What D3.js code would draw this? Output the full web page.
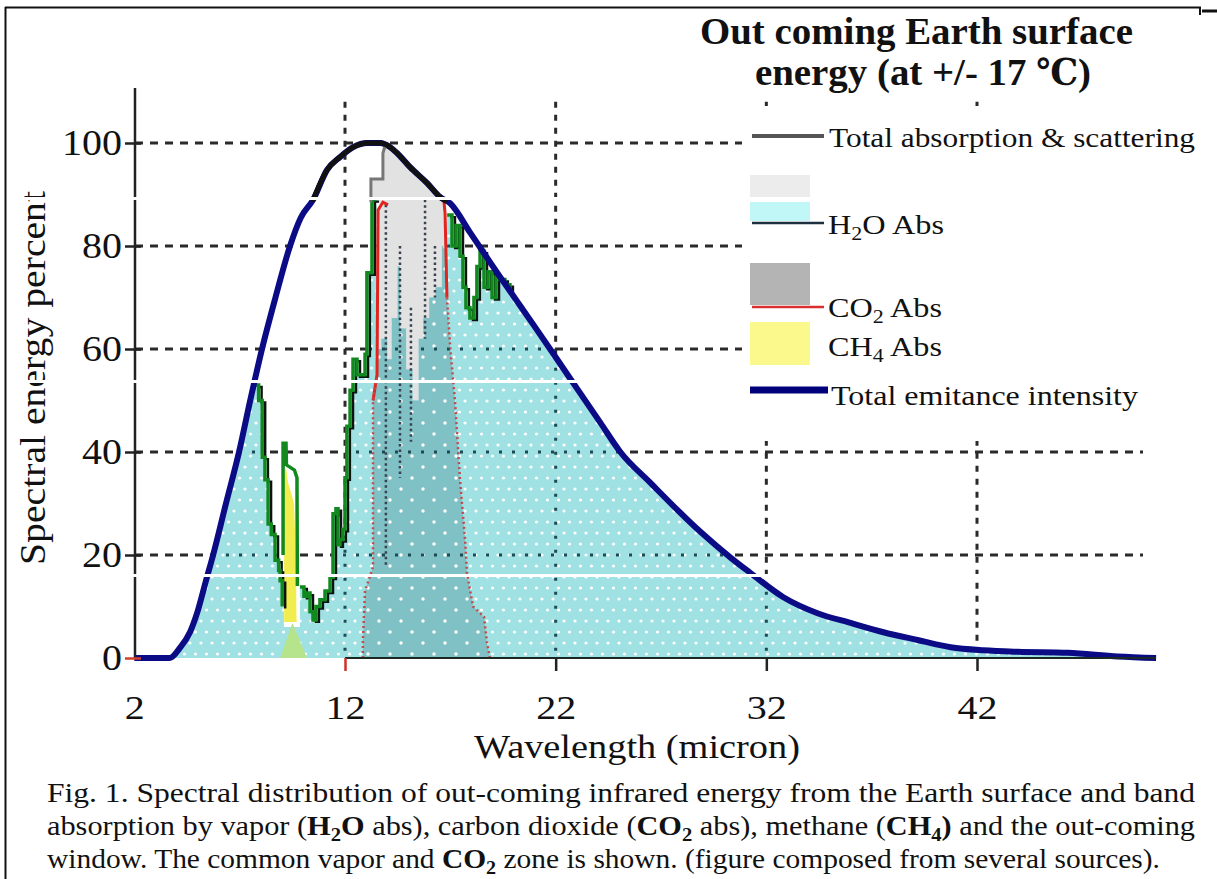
<!DOCTYPE html>
<html><head><meta charset="utf-8">
<script src="https://cdn.jsdelivr.net/npm/d3@7/dist/d3.min.js"></script>
<style>
html,body{margin:0;padding:0;background:#fff;}
svg{display:block;}
text{font-family:"Liberation Serif","Tinos","Times New Roman","Nimbus Roman","DejaVu Serif Condensed","DejaVu Serif",serif;fill:#111;}
</style></head><body>
<svg id="chart" width="1217" height="879"></svg>
<script>
// ---------------- data ----------------
const xTicks = [2, 12, 22, 32, 42];
const yTicks = [0, 20, 40, 60, 80, 100];
const gridX = [12, 22, 32, 42];
const gridY = [20, 40, 60, 80, 100];

// total emitance intensity (navy envelope) [micron, percent]
const emittance = [[2.0,0],[3.69,0],[4.17,2],[4.64,5],[5.0,9],[5.4,15],[5.74,20],[6.35,30],[6.97,40],[7.5,50],
  [8.06,60],[8.7,70],[9.39,80],[9.9,85.5],[10.49,89],[11.15,94.8],[11.77,97.3],[12.39,99.2],[13.05,100],
  [13.67,100],[14.14,99.2],[14.48,98],[15.09,95.3],[15.9,92.2],[16.52,89.5],[16.99,88.3],[17.94,82.6],
  [19.36,74],[20.18,69.2],[21.03,64.2],[22.55,55.1],[24.12,45.7],[25.07,40],[26.5,34],[28.87,24.5],
  [30.3,19.5],[31.25,16.5],[32.81,11.8],[34.43,8.7],[36.0,6.8],[37.56,5],[39.18,3.5],[40.75,2.1],
  [42.31,1.5],[43.93,1.2],[46.31,1],[48.68,0.3],[50.5,0]];

// total absorption & scattering (black top) and its grey step
const totalAbs = [[10.49,89],[11.15,94.8],[11.77,97.3],[12.39,99.2],[13.05,100],[13.67,100],[14.14,99.2],
  [14.48,98],[15.09,95.3],[15.9,92.2],[16.52,89.5],[16.75,88.8]];
const absStep = [[13.23,88.5],[13.23,93],[13.8,93],[13.8,98],[13.94,100]];

// upper limit of the transmitted (H2O window) area
const h2oWindow = [[7.73,53],[7.9,50],[8.07,39],[8.2,34.6],[8.35,26],[8.5,24],[8.68,19],[8.85,17],[8.92,15],
  [9.02,10],[9.1,6],[9.8,6],[9.86,13.8],[10.05,12],[10.2,12.6],[10.34,9],[10.48,7.4],[10.62,10],[10.81,11.3],
  [11.05,13],[11.29,15.7],[11.43,28],[11.57,29],[11.67,22],[11.76,23],[11.9,25],[12.0,35],[12.09,45],
  [12.24,52],[12.38,58],[12.57,55],[12.81,55],[12.95,59],[13.04,74.8],[13.28,89],[13.47,89],
  [13.5,60],[13.73,62],[14.0,58],[14.22,66],[14.5,76],[14.62,64],[14.9,56],[15.2,50],[15.5,62],[15.72,66],
  [16.0,70],[16.3,72],[16.6,80],[16.85,86],
  [16.89,86],[17.08,80],[17.27,84],[17.46,78],[17.6,72],[17.74,68],[17.93,66],[18.12,70],[18.26,76],
  [18.41,79],[18.6,72],[18.79,75],[18.98,70],[19.17,74],[19.36,73.5],[19.59,72.5],[19.83,71.5]];

// CH4 band
const ch4Band = [[9.11,7],[9.11,36],[9.2,37],[9.3,34],[9.45,32],[9.58,30],[9.65,22],[9.68,14],[9.7,7]];
const ch4Overlap = [[8.92,0],[9.5,6.8],[10.2,0]];
const ch4Outline = [[9.06,20],[9.06,41.7],[9.2,41.7],[9.22,37.5],[9.6,36.5],[9.72,35],[9.74,14]];

// CO2 band edges (red)
const co2Left = [[12.85,0],[12.85,3.5],[12.95,13],[13.33,17.7],[13.33,50],[13.52,55],[13.57,87],[13.8,88.5],[14.04,88]];
const co2Right = [[16.7,88.5],[16.75,86.4],[16.84,70],[17.0,60],[17.22,50],[17.46,34.6],[17.7,23],[17.79,16.5],
  [18.08,10],[18.6,8],[18.74,3],[18.88,0]];
// dotted H2O lines inside the CO2 zone [micron, top, bottom]
const co2ZoneLines = [[13.94,88,18],[14.61,80,35],[15.13,68,42],[15.8,89,62],[16.27,80,70]];

// ---------------- drawing ----------------
const svg = d3.select('#chart');
const x = d3.scaleLinear().domain([12, 42]).range([345, 977]);
const y = d3.scaleLinear().domain([0, 100]).range([658, 143]);
const defs = svg.append('defs');

function pattern(id, bg, w, h, dots, r) {
  const p = defs.append('pattern').attr('id', id).attr('patternUnits', 'userSpaceOnUse')
    .attr('width', w).attr('height', h);
  p.append('rect').attr('width', w).attr('height', h).attr('fill', bg);
  dots.forEach(d => p.append('circle').attr('cx', d[0]).attr('cy', d[1]).attr('r', r).attr('fill', '#fff'));
}
pattern('pCyan', '#a0e1e4', 11, 22, [[3, 5], [8.5, 16]], 1.6);
pattern('pTeal', '#80c1c5', 22, 22, [[5, 5], [16, 16]], 1.7);
pattern('pGray', '#e2e2e2', 8, 8, [], 0);

const lineGen = d3.line().x(d => x(d[0])).y(d => y(d[1]));
const smoothGen = d3.line().x(d => x(d[0])).y(d => y(d[1])).curve(d3.curveMonotoneX);
const stepGen = d3.line().x(d => x(d[0])).y(d => y(d[1])).curve(d3.curveStepAfter);
const areaEnv = d3.area().x(d => x(d[0])).y0(y(0)).y1(d => y(d[1])).curve(d3.curveMonotoneX);

// clip paths
const yMax = 112, yMin = -3, xMin = 2, xMax = 50.5;
const h2oPts = [[xMin, yMax], [h2oWindow[0][0], yMax], ...h2oWindow,
  [h2oWindow[h2oWindow.length - 1][0], yMax], [xMax, yMax], [xMax, yMin], [xMin, yMin]];
defs.append('clipPath').attr('id', 'h2oClip').append('path').attr('d', stepGen(h2oPts) + 'Z');
const bandPts = [...co2Left, ...absStep, [absStep[absStep.length - 1][0], yMax], [co2Right[0][0], yMax], ...co2Right];
defs.append('clipPath').attr('id', 'bandClip').append('path').attr('d', lineGen(bandPts) + 'Z');
defs.append('clipPath').attr('id', 'envClip').append('path').attr('d', areaEnv(emittance));

// frame
svg.append('line').attr('x1', 5.5).attr('x2', 5.5).attr('y1', 7).attr('y2', 879).attr('stroke', '#111').attr('stroke-width', 2);
svg.append('line').attr('x1', 5).attr('x2', 1201).attr('y1', 7.5).attr('y2', 7.5).attr('stroke', '#111').attr('stroke-width', 2);
svg.append('line').attr('x1', 1200).attr('x2', 1200).attr('y1', 7).attr('y2', 15).attr('stroke', '#111').attr('stroke-width', 2);
svg.append('line').attr('x1', 1202).attr('x2', 1217).attr('y1', 11).attr('y2', 11).attr('stroke', '#111').attr('stroke-width', 3);

// dashed grid (under fills)
const gGrid = svg.append('g').attr('stroke', '#2a2a2a').attr('stroke-width', 3).attr('fill', 'none');
gridY.forEach(v => gGrid.append('line').attr('x1', 135).attr('x2', 1143).attr('y1', y(v)).attr('y2', y(v))
  .attr('stroke-dasharray', '8,7'));
gridX.forEach(v => gGrid.append('line').attr('x1', x(v)).attr('x2', x(v)).attr('y1', y(108)).attr('y2', y(0))
  .attr('stroke-dasharray', '6,7'));

// fills
const gFill = svg.append('g');
gFill.append('path').attr('d', areaEnv(emittance)).attr('fill', 'url(#pGray)').attr('clip-path', 'url(#bandClip)');
gFill.append('path').attr('d', areaEnv(emittance)).attr('fill', 'url(#pCyan)').attr('clip-path', 'url(#h2oClip)');
gFill.append('g').attr('clip-path', 'url(#bandClip)').append('path').attr('d', areaEnv(emittance))
  .attr('fill', 'url(#pTeal)').attr('clip-path', 'url(#h2oClip)');

// CH4
gFill.append('path').attr('d', lineGen(ch4Band) + 'Z').attr('fill', '#f1ed4e');
gFill.append('path').attr('d', lineGen(ch4Overlap) + 'Z').attr('fill', '#b6e48c');

// dotted grid showing through the fill
const gDot = svg.append('g').attr('clip-path', 'url(#envClip)').append('g').attr('clip-path', 'url(#h2oClip)')
  .attr('stroke', '#1c4b55').attr('stroke-width', 3).attr('fill', 'none');
gridY.forEach(v => gDot.append('line').attr('x1', 135).attr('x2', 1143).attr('y1', y(v)).attr('y2', y(v))
  .attr('stroke-dasharray', '3,10'));
gridX.forEach(v => gDot.append('line').attr('x1', x(v)).attr('x2', x(v)).attr('y1', y(108)).attr('y2', y(0))
  .attr('stroke-dasharray', '3,11'));

// dotted H2O lines inside the CO2 zone
co2ZoneLines.forEach(d => svg.append('line').attr('x1', x(d[0])).attr('x2', x(d[0]))
  .attr('y1', y(d[1])).attr('y2', y(d[2])).attr('stroke', '#3a4250').attr('stroke-width', 2.5)
  .attr('stroke-dasharray', '2.5,3'));

// H2O absorption lines (green with black shadow)
const h2oDefined = d => (d[0] <= 13.47 || d[0] >= 16.85) && !(d[0] >= 9.1 && d[0] <= 9.8);
const h2oLine = d3.line().x(d => x(d[0])).y(d => y(d[1])).curve(d3.curveStepAfter).defined(h2oDefined);
svg.append('path').attr('d', h2oLine(h2oWindow)).attr('fill', 'none').attr('stroke', '#0c1410')
  .attr('stroke-width', 2.4).attr('transform', 'translate(3,2)');
svg.append('path').attr('d', h2oLine(h2oWindow)).attr('fill', 'none').attr('stroke', '#12891e').attr('stroke-width', 3.5);
svg.append('path').attr('d', lineGen(ch4Outline)).attr('fill', 'none').attr('stroke', '#12891e').attr('stroke-width', 3.5);

// CO2 red edges
const redSolid = '#e0241e';
svg.append('path').attr('d', lineGen(co2Left.filter(d => d[1] >= 50))).attr('fill', 'none').attr('stroke', redSolid).attr('stroke-width', 3);
svg.append('path').attr('d', lineGen(co2Left.filter(d => d[1] <= 55))).attr('fill', 'none').attr('stroke', '#c44a4a')
  .attr('stroke-width', 2.5).attr('stroke-dasharray', '2,3');
svg.append('path').attr('d', lineGen(co2Right.filter(d => d[1] >= 70))).attr('fill', 'none').attr('stroke', redSolid).attr('stroke-width', 3);
svg.append('path').attr('d', lineGen(co2Right.filter(d => d[1] <= 70))).attr('fill', 'none').attr('stroke', '#c44a4a')
  .attr('stroke-width', 2.5).attr('stroke-dasharray', '2,3');

// envelope and total absorption
svg.append('path').attr('d', smoothGen(emittance)).attr('fill', 'none').attr('stroke', '#0b0b86')
  .attr('stroke-width', 6).attr('stroke-linejoin', 'round');
svg.append('path').attr('d', lineGen(absStep)).attr('fill', 'none').attr('stroke', '#777').attr('stroke-width', 3);
svg.append('path').attr('d', smoothGen(totalAbs))
  .attr('fill', 'none').attr('stroke', '#111').attr('stroke-width', 5).attr('stroke-linecap', 'round');

// axes
svg.append('line').attr('x1', 135).attr('x2', 135).attr('y1', 88).attr('y2', 658).attr('stroke', '#222').attr('stroke-width', 2.5);
svg.append('line').attr('x1', x(12)).attr('x2', x(50.5)).attr('y1', 658).attr('y2', 658).attr('stroke', '#1a2a22').attr('stroke-width', 2);
const yAx = svg.append('g').attr('transform', 'translate(135,0)')
  .call(d3.axisLeft(y).tickValues(yTicks).tickSize(10).tickPadding(3).tickFormat(d3.format('d')));
yAx.select('.domain').remove();
yAx.attr('font-family', null).attr('font-size', null);
yAx.selectAll('.tick line').attr('x1', 6).attr('stroke', (d) => d === 0 ? '#d0402a' : '#222').attr('stroke-width', 2.5);
yAx.selectAll('.tick text').attr('font-size', 35).attr('fill', '#111')
  .attr('textLength', d => String(d).length * 20).attr('lengthAdjust', 'spacingAndGlyphs');
const xAx = svg.append('g').attr('transform', 'translate(0,658)')
  .call(d3.axisBottom(x).tickValues(xTicks).tickSize(13).tickPadding(24).tickFormat(d3.format('d')));
xAx.select('.domain').remove();
xAx.attr('font-family', null).attr('font-size', null);
xAx.selectAll('.tick line').attr('stroke', d => d === 12 ? '#d0302a' : '#222').attr('stroke-width', 2.5)
  .attr('opacity', d => d === 2 ? 0 : 1);
xAx.selectAll('.tick text').attr('font-size', 34).attr('fill', '#111')
  .attr('textLength', d => String(d).length * 20).attr('lengthAdjust', 'spacingAndGlyphs');

svg.append('text').attr('x', 474).attr('y', 758).attr('font-size', 34)
  .attr('textLength', 326).attr('lengthAdjust', 'spacingAndGlyphs').text('Wavelength (micron)');
svg.append('text').attr('transform', 'translate(45,378) rotate(-90)').attr('text-anchor', 'middle')
  .attr('font-size', 36).attr('textLength', 374).attr('lengthAdjust', 'spacingAndGlyphs').text('Spectral energy percent');

// rich text helper
function rich(parent, segs, attrs, size) {
  const t = parent.append('text');
  Object.entries(attrs).forEach(([k, v]) => t.attr(k, v));
  let shift = 0;
  segs.forEach(s => {
    const want = s.sub ? size * 0.22 : 0;
    const ts = t.append('tspan').text(s.t);
    if (want !== shift) ts.attr('dy', want - shift);
    shift = want;
    if (s.b) ts.attr('font-weight', 'bold');
    if (s.sub) ts.attr('font-size', size * 0.68);
  });
  return t;
}
const SG = 'spacingAndGlyphs';

// legend
const L = svg.append('g');
L.append('rect').attr('x', 742).attr('y', 106).attr('width', 472).attr('height', 335).attr('fill', '#fff');
L.append('line').attr('x1', 752).attr('x2', 824).attr('y1', 136).attr('y2', 136).attr('stroke', '#555').attr('stroke-width', 4);
L.append('text').attr('x', 829).attr('y', 147).attr('font-size', 27).attr('textLength', 366)
  .attr('lengthAdjust', SG).text('Total absorption & scattering');
L.append('rect').attr('x', 750).attr('y', 175).attr('width', 60).attr('height', 23).attr('fill', '#ececec');
L.append('rect').attr('x', 750).attr('y', 202).attr('width', 60).attr('height', 19).attr('fill', '#c2f7f8');
L.append('line').attr('x1', 752).attr('x2', 824).attr('y1', 223).attr('y2', 223).attr('stroke', '#1c3040').attr('stroke-width', 2.5);
rich(L, [{t: 'H'}, {t: '2', sub: 1}, {t: 'O Abs'}], {x: 828, y: 234, 'font-size': 27, textLength: 116, lengthAdjust: SG}, 27);
L.append('rect').attr('x', 750).attr('y', 263).attr('width', 60).attr('height', 42).attr('fill', '#b4b4b4');
L.append('line').attr('x1', 752).attr('x2', 824).attr('y1', 307).attr('y2', 307).attr('stroke', '#d83030').attr('stroke-width', 2.5);
rich(L, [{t: 'CO'}, {t: '2', sub: 1}, {t: ' Abs'}], {x: 828, y: 317, 'font-size': 27, textLength: 114, lengthAdjust: SG}, 27);
L.append('rect').attr('x', 750).attr('y', 322).attr('width', 60).attr('height', 43).attr('fill', '#fbf98c');
rich(L, [{t: 'CH'}, {t: '4', sub: 1}, {t: ' Abs'}], {x: 828, y: 356, 'font-size': 27, textLength: 114, lengthAdjust: SG}, 27);
L.append('line').attr('x1', 750).attr('x2', 828).attr('y1', 390).attr('y2', 390).attr('stroke', '#00007a').attr('stroke-width', 7);
L.append('text').attr('x', 831).attr('y', 405).attr('font-size', 27).attr('textLength', 307)
  .attr('lengthAdjust', SG).text('Total emitance intensity');

// scan gaps (white stripes in the original figure)
[[197, 3], [380, 3], [574, 3]].forEach(s => svg.append('rect').attr('x', 12).attr('y', s[0])
  .attr('width', 1150).attr('height', s[1]).attr('fill', '#fff'));

// title
svg.append('text').attr('x', 700).attr('y', 44).attr('font-size', 37).attr('font-weight', 'bold')
  .attr('textLength', 433).attr('lengthAdjust', SG).text('Out coming Earth surface');
svg.append('text').attr('x', 755).attr('y', 85).attr('font-size', 37).attr('font-weight', 'bold')
  .attr('textLength', 336).attr('lengthAdjust', SG).text('energy (at +/- 17 \u2103)');

// caption
const cs = 27;
rich(svg, [{t: 'Fig. 1. Spectral distribution of out-coming infrared energy from the Earth surface and band'}],
  {x: 47, y: 802, 'font-size': cs, textLength: 1148, lengthAdjust: SG}, cs);
rich(svg, [{t: 'absorption by vapor ('}, {t: 'H', b: 1}, {t: '2', b: 1, sub: 1}, {t: 'O', b: 1}, {t: ' abs), carbon dioxide ('},
  {t: 'CO', b: 1}, {t: '2', b: 1, sub: 1}, {t: ' abs), methane ('}, {t: 'CH', b: 1}, {t: '4', b: 1, sub: 1}, {t: ')', b: 1},
  {t: ' and the out-coming'}], {x: 47, y: 835, 'font-size': cs, textLength: 1148, lengthAdjust: SG}, cs);
rich(svg, [{t: 'window. The common vapor and '}, {t: 'CO', b: 1}, {t: '2', b: 1, sub: 1},
  {t: ' zone is shown. (figure composed from several sources).'}], {x: 47, y: 868, 'font-size': cs, textLength: 1113, lengthAdjust: SG}, cs);
</script>
</body></html>
